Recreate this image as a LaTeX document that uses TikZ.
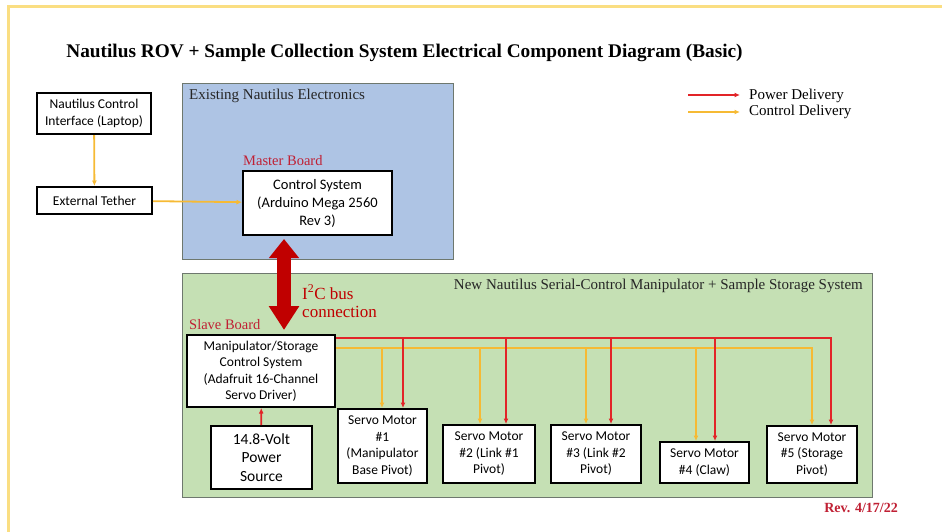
\documentclass[tikz,border=0pt]{standalone}
\usepackage{fontspec}
\setmainfont{Liberation Serif}
\newfontfamily\calfont{Carlito}
\usetikzlibrary{arrows.meta,calc}
\definecolor{frame}{RGB}{250,222,130}
\definecolor{blueg}{RGB}{174,196,228}
\definecolor{greeng}{RGB}{197,224,180}
\definecolor{pwred}{RGB}{226,36,40}
\definecolor{ctorg}{RGB}{246,186,52}
\definecolor{darkred}{RGB}{192,0,0}
\definecolor{lblred}{RGB}{192,32,52}
\definecolor{grpgray}{RGB}{110,120,110}
\begin{document}
\begin{tikzpicture}[x=1pt,y=-1pt,
  box/.style={draw=black, line width=2pt, fill=white, align=center,
    font=\calfont\fontsize{13.5}{16.5}\selectfont, inner sep=1pt},
  grp/.style={draw=grpgray, line width=1pt, anchor=north west, inner sep=0pt},
  pw/.style={draw=pwred, line width=1.8pt, -{Latex[length=5.5pt,width=5pt]}},
  ct/.style={draw=ctorg, line width=1.8pt, -{Latex[length=5.5pt,width=5pt]}},
  lbl/.style={font=\fontsize{15}{17}\selectfont, inner sep=0pt}
]
\useasboundingbox (0,0) rectangle (942,531);
\draw[draw=frame, line width=3pt] (8,6) rectangle (965,550);

\node[font=\bfseries\fontsize{19.3}{22}\selectfont, inner sep=0pt] (title) at (404.5,53)
  {Nautilus ROV + Sample Collection System Electrical Component Diagram (Basic)};

% groups
\node[grp, fill=blueg, minimum width=271pt, minimum height=176pt] (blue) at (182,83) {};
\node[grp, fill=greeng, minimum width=690pt, minimum height=224pt] (green) at (182,273) {};
\node[lbl, anchor=west, text=black!85] (bluelbl) at (189,96) {Existing Nautilus Electronics};
\node[lbl, anchor=east, text=black!85] (greenlbl) at (863,286) {New Nautilus Serial-Control Manipulator + Sample Storage System};

% boxes
\node[box, minimum width=114pt, minimum height=41pt] (laptop) at (94,113.5) {Nautilus Control\\Interface (Laptop)};
\node[box, minimum width=115pt, minimum height=27pt] (tether) at (94.5,200.5) {External Tether};
\node[box, minimum width=149pt, minimum height=64pt, font=\calfont\fontsize{14.5}{18}\selectfont] (ctrl) at (317.5,203) {Control System\\(Arduino Mega 2560\\Rev 3)};
\node[box, minimum width=148pt, minimum height=72pt] (manip) at (261,371) {Manipulator/Storage\\Control System\\(Adafruit 16-Channel\\Servo Driver)};
\node[box, minimum width=101pt, minimum height=63pt, font=\calfont\fontsize{15.5}{18.5}\selectfont] (power) at (261.5,457.5) {14.8-Volt\\Power\\Source};
\node[box, minimum width=89pt, minimum height=74pt] (s1) at (382.5,446) {Servo Motor\\\#1\\(Manipulator\\Base Pivot)};
\node[box, minimum width=92pt, minimum height=58pt] (s2) at (489,454) {Servo Motor\\\#2 (Link \#1\\Pivot)};
\node[box, minimum width=90pt, minimum height=58pt] (s3) at (596,454) {Servo Motor\\\#3 (Link \#2\\Pivot)};
\node[box, minimum width=89pt, minimum height=41pt] (s4) at (704.5,462.5) {Servo Motor\\\#4 (Claw)};
\node[box, minimum width=90pt, minimum height=57pt] (s5) at (812,454.5) {Servo Motor\\\#5 (Storage\\Pivot)};

% labels
\node[lbl, anchor=south west, text=lblred, font=\fontsize{14.5}{16}\selectfont] (mlbl) at (243,166) {Master Board};
\node[lbl, anchor=south west, text=lblred, font=\fontsize{14.5}{16}\selectfont] (slbl) at (189,330) {Slave Board};
\node[lbl, anchor=west, align=left, text=darkred, font=\fontsize{17}{18}\selectfont] (i2c) at (302,301) {I\textsuperscript{2}C bus\\connection};

% control connections
\draw[ct] (laptop) -- (tether);
\draw[ct] (tether) -- (ctrl);

% I2C double arrow
\coordinate (i2ctop) at ($(ctrl.south)+(-33.5,3)$);
\coordinate (i2cbot) at ($(manip.north)+(23,-4)$);
\draw[darkred, line width=14pt, {Triangle[length=19pt,width=29pt]}-{Triangle[length=24pt,width=29pt]}] (i2ctop) -- (i2cbot);

% power source
\draw[pw] (power) -- (manip);

% buses
\coordinate (obus) at ($(manip.north east)+(0,14)$);
\coordinate (rbus) at ($(manip.north east)+(0,4)$);
\draw[ct] (obus) -| ($(s5.north)+(0,0)$);
\draw[ct] (obus) -| ($(s1.north)+(-0.5,0)$);
\draw[ct] (obus) -| ($(s2.north)+(-9,0)$);
\draw[ct] (obus) -| ($(s3.north)+(-10,0)$);
\draw[ct] (obus) -| ($(s4.north)+(-8.5,0)$);
\draw[pw] (rbus) -| ($(s5.north)+(19,0)$);
\draw[pw] (rbus) -| ($(s1.north)+(20.5,0)$);
\draw[pw] (rbus) -| ($(s2.north)+(17,0)$);
\draw[pw] (rbus) -| ($(s3.north)+(15,0)$);
\draw[pw] (rbus) -| ($(s4.north)+(10.5,0)$);

% legend
\coordinate (lpa) at (688,95);
\coordinate (lpb) at (740,95);
\coordinate (lca) at (688,112);
\coordinate (lcb) at (740,112);
\draw[pw] (lpa) -- (lpb);
\draw[ct] (lca) -- (lcb);
\node[lbl, anchor=west] (lpt) at (749,96) {Power Delivery};
\node[lbl, anchor=west] (lct) at (749,112) {Control Delivery};

\node[lbl, anchor=east, text=lblred, font=\bfseries\fontsize{14}{16}\selectfont] (rev) at (898,508) {Rev. 4/17/22};
\end{tikzpicture}
\end{document}
